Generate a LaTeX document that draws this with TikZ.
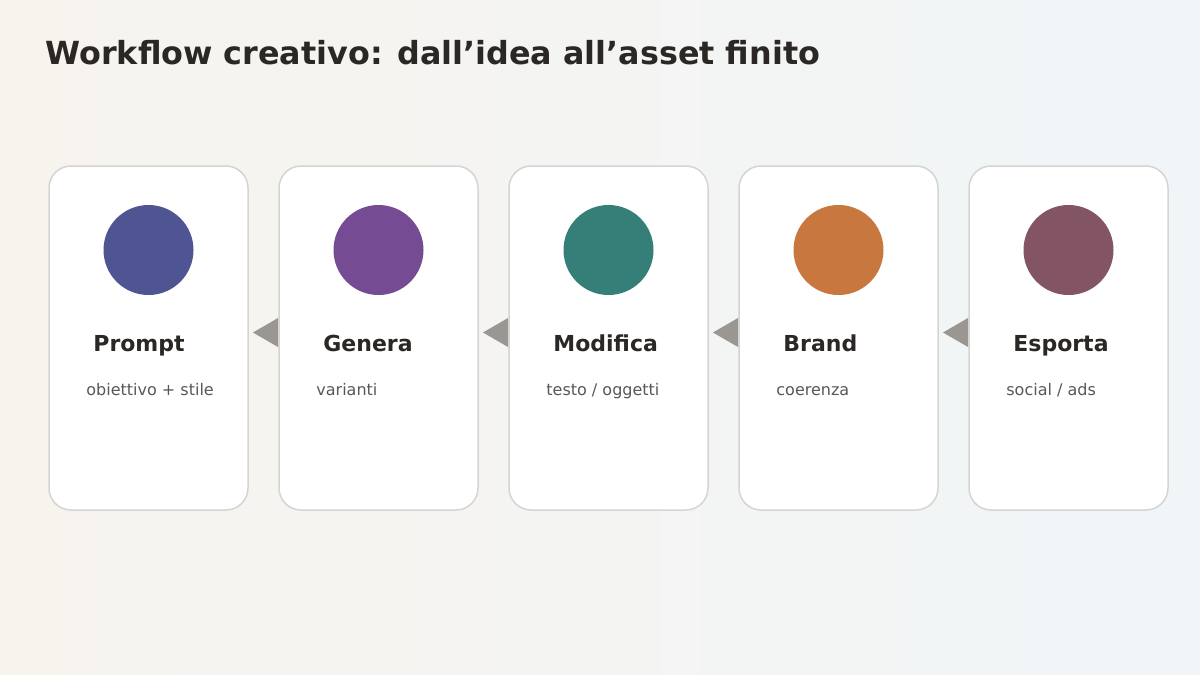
\documentclass[tikz,border=0pt]{standalone}
\usepackage{fontspec}
\setmainfont{DejaVu Sans}
\usetikzlibrary{positioning}

\definecolor{bgWarm}{HTML}{F7F4EE}
\definecolor{bgCool}{HTML}{F1F5F8}
\definecolor{inkDark}{HTML}{2A2724}
\definecolor{inkSoft}{HTML}{5A5755}
\definecolor{cardLine}{HTML}{D6D4D1}
\definecolor{tipGray}{HTML}{9A9691}
\definecolor{cPrompt}{HTML}{4F5592}
\definecolor{cGenera}{HTML}{754C94}
\definecolor{cModifica}{HTML}{367F79}
\definecolor{cBrand}{HTML}{C8773E}
\definecolor{cEsporta}{HTML}{835463}

\begin{document}
\begin{tikzpicture}[x=0.5pt, y=-0.5pt,
    card/.style={draw=cardLine, line width=0.75pt, fill=white, rectangle, rounded corners=11pt,
      minimum width=99.5pt, minimum height=172pt, inner sep=0pt, outer sep=0pt},
    dot/.style={circle, fill=#1, minimum size=45pt, inner sep=0pt},
    steptitle/.style={anchor=base west, font=\bfseries\fontsize{11}{13}\selectfont, text=inkDark, inner sep=0pt},
    stepnote/.style={anchor=base west, font=\fontsize{8}{10}\selectfont, text=inkSoft, inner sep=0pt}]
      \useasboundingbox (0,0) rectangle (1200,675);
      \shade[left color=bgWarm, right color=bgCool] (0,0) rectangle (1200,675);
      %
      \node[anchor=base west, inner sep=0pt, text=inkDark, font=\bfseries\fontsize{15.9}{19}\selectfont] (title) at (45,64.5) {Workflow creativo: dall’idea all’asset finito};
      %
      \foreach \nm/\col/\sub [count=\i] in {Prompt/cPrompt/{obiettivo + stile}, Genera/cGenera/{varianti},
          Modifica/cModifica/{testo / oggetti}, Brand/cBrand/{coerenza}, Esporta/cEsporta/{social / ads}} {
        \node[card] (c\i) at (148.5+230*\i-230,338) {};
        \node[dot=\col] (d\i) at (148.5+230*\i-230,250) {};
        \node[steptitle] (t\i) at (93+230*\i-230,351.5) {\nm};
        \node[stepnote] (s\i) at (86+230*\i-230,395) {\sub};
      }
      %
      \foreach \i [remember=\i as \j (initially 1)] in {2,...,5} {
        \fill[tipGray] ([shift={(-1,-20)}]c\i.west) -- ([shift={(-1,9)}]c\i.west) -- ([shift={(5,-5.5)}]c\j.east) -- cycle;
      }
\end{tikzpicture}
\end{document}
